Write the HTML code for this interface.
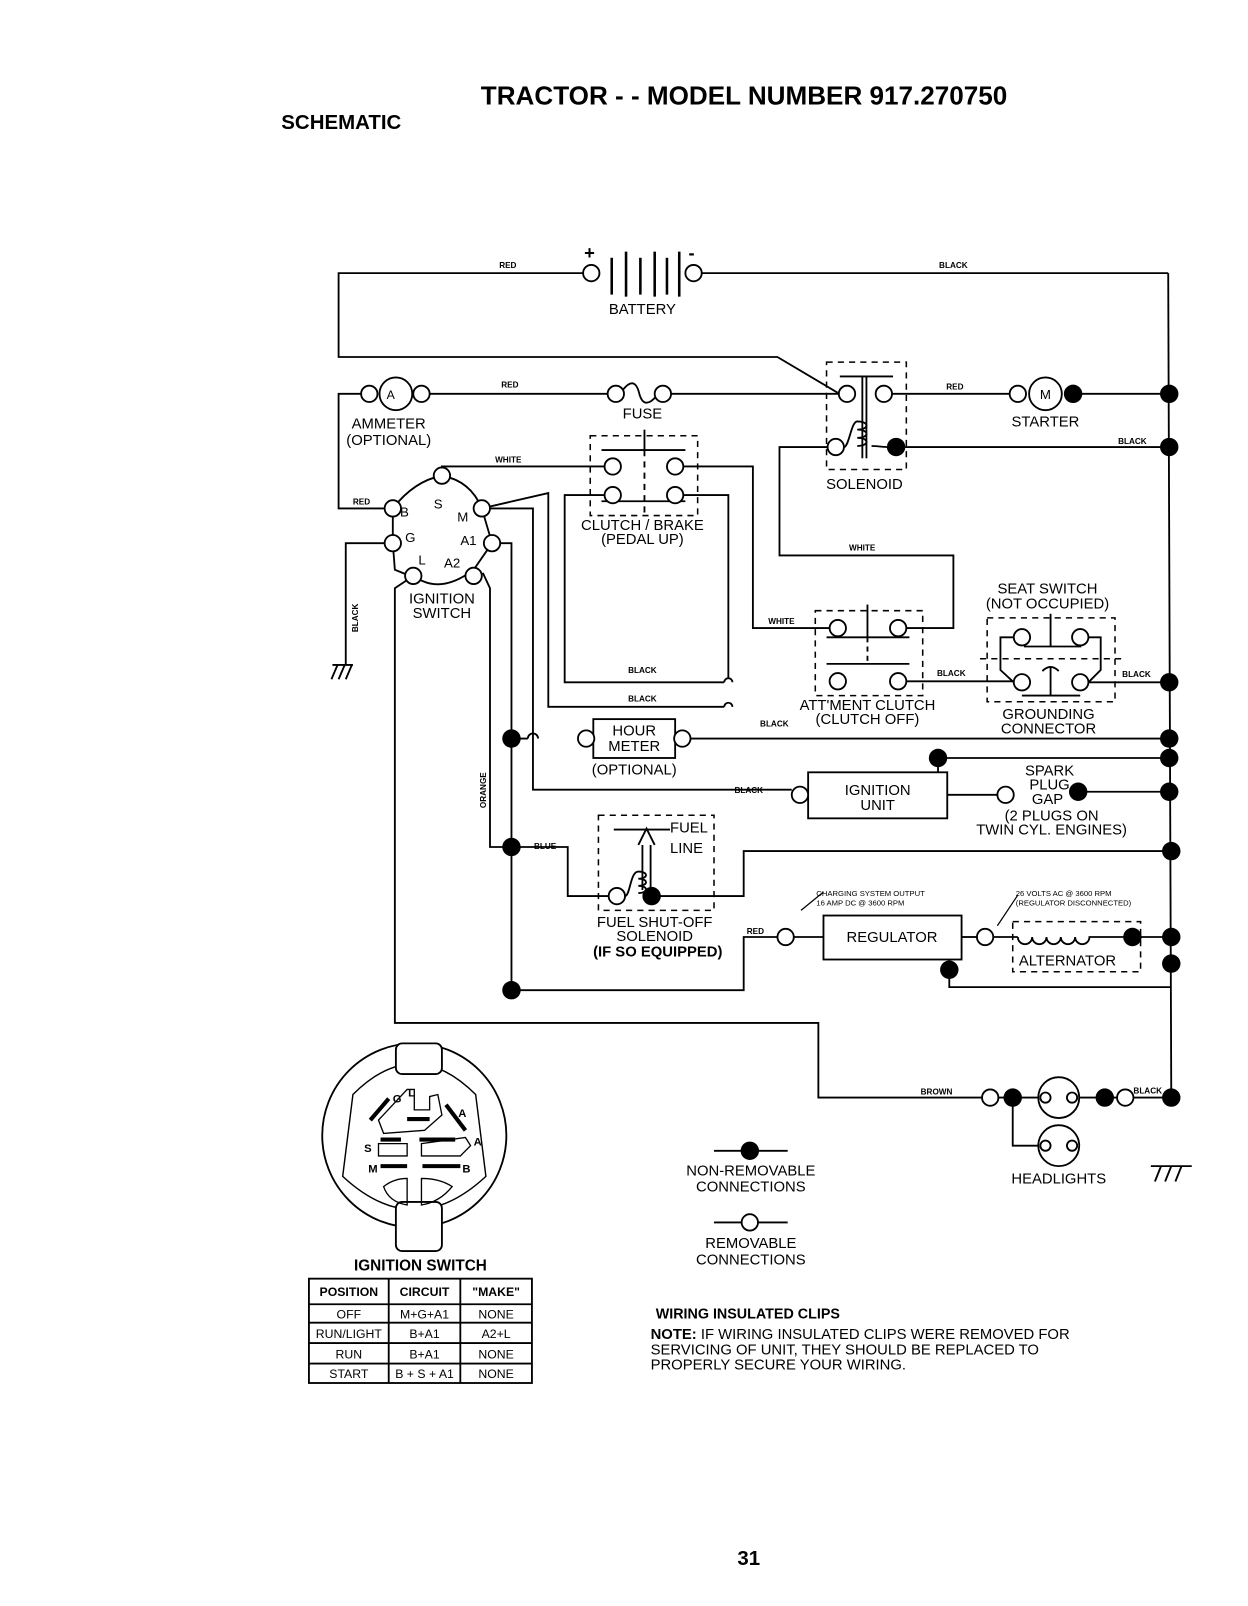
<!DOCTYPE html>
<html><head><meta charset="utf-8"><style>
html,body{margin:0;padding:0;background:#fff}
svg{display:block}
text{font-family:"Liberation Sans",sans-serif;fill:#000}
.w{font-size:8px;font-weight:bold}
.l{font-size:14.5px}
.b{font-weight:bold}
</style></head><body>
<svg width="1248" height="1606" viewBox="0 0 1220 1570" preserveAspectRatio="none" xmlns="http://www.w3.org/2000/svg">
<g fill="none" stroke="#000" stroke-width="1.8">
<!-- battery -->
<polyline points="570,267 331,267 331,349 760,349 819,384"/>
<line x1="686" y1="267" x2="1142" y2="267"/>
<line x1="1142" y1="267" x2="1145" y2="1075"/>
<circle cx="578" cy="267" r="8" fill="#fff"/><circle cx="678" cy="267" r="8" fill="#fff"/>
<line x1="598" y1="252" x2="598" y2="288" stroke-width="2.5"/><line x1="612" y1="246" x2="612" y2="290" stroke-width="2.5"/>
<line x1="626" y1="252" x2="626" y2="288" stroke-width="2.5"/><line x1="640" y1="246" x2="640" y2="290" stroke-width="2.5"/>
<line x1="652" y1="252" x2="652" y2="288" stroke-width="2.5"/><line x1="664" y1="246" x2="664" y2="290" stroke-width="2.5"/>
<!-- ammeter row -->
<polyline points="353,385 331,385 331,497 384,497"/>
<line x1="420" y1="385" x2="594" y2="385"/>
<circle cx="361" cy="385" r="8" fill="#fff"/><circle cx="387" cy="385" r="16" fill="#fff"/><circle cx="412" cy="385" r="8" fill="#fff"/>
<circle cx="602" cy="385" r="8" fill="#fff"/><circle cx="648" cy="385" r="8" fill="#fff"/>
<path d="M609,381 C616,372 622,372 625,385 C628,396 634,396 641,388"/>
<line x1="656" y1="385" x2="820" y2="385"/>
<!-- solenoid -->
<rect x="808" y="354" width="78" height="105" stroke-dasharray="6,5" stroke-width="1.5"/>
<line x1="821" y1="368" x2="873" y2="368"/>
<line x1="843" y1="368" x2="843" y2="448"/><line x1="847" y1="368" x2="847" y2="448"/>
<path d="M825,437 C830,437 832,412 838,412 M838,412 c12,0 12,8 0,8 c12,0 12,8 0,8 c12,0 12,8 0,8 M852,436 C858,436 862,437 868,437"/>
<circle cx="828" cy="385" r="8" fill="#fff"/><circle cx="864" cy="385" r="8" fill="#fff"/>
<circle cx="817" cy="437" r="8" fill="#fff"/>
<line x1="872" y1="385" x2="987" y2="385"/>
<circle cx="995" cy="385" r="8" fill="#fff"/><circle cx="1022" cy="385" r="16" fill="#fff"/>
<line x1="1049" y1="385" x2="1143" y2="385"/>
<line x1="876" y1="437" x2="1143" y2="437"/>
<polyline points="809,437 762,437 762,543 932,543 932,614 886,614"/>
<!-- clutch brake -->
<rect x="577" y="426" width="105" height="78" stroke-dasharray="6,5" stroke-width="1.5"/>
<line x1="630" y1="420" x2="630" y2="440"/><line x1="630" y1="440" x2="630" y2="504" stroke-dasharray="6,5"/>
<line x1="588" y1="440" x2="670" y2="440"/><line x1="588" y1="490" x2="670" y2="490"/>
<polyline points="432,465 432,456 591,456"/>
<polyline points="668,456 736,456 736,614 811,614"/>
<circle cx="599" cy="456" r="8" fill="#fff"/><circle cx="660" cy="456" r="8" fill="#fff"/>
<circle cx="599" cy="484" r="8" fill="#fff"/><circle cx="660" cy="484" r="8" fill="#fff"/>
<polyline points="591,484 552,484 552,667 708,667 M716,667 811,667"/>
<path d="M708,667 a4,4 0 0 1 8,0"/>
<polyline points="668,484 712,484 712,663 M712,671 712,715 947,715 947,691 886,666"/>
<polyline points="471,497 536,482 536,691 708,691 M716,691 753,691 819,666"/>
<path d="M708,691 a4,4 0 0 1 8,0"/>
<!-- attment -->
<rect x="797" y="597" width="105" height="83" stroke-dasharray="6,5" stroke-width="1.5"/>
<line x1="808" y1="623" x2="889" y2="623"/><line x1="808" y1="649" x2="889" y2="649"/>
<line x1="848" y1="591" x2="848" y2="623"/><line x1="848" y1="623" x2="848" y2="649" stroke-dasharray="5,4"/>
<circle cx="819" cy="614" r="8" fill="#fff"/><circle cx="878" cy="614" r="8" fill="#fff"/>
<circle cx="819" cy="666" r="8" fill="#fff"/><circle cx="878" cy="666" r="8" fill="#fff"/>
<line x1="886" y1="666" x2="991" y2="666"/>
<!-- seat switch -->
<rect x="965" y="604" width="125" height="82" stroke-dasharray="6,5" stroke-width="1.5"/>
<line x1="1001" y1="632" x2="1057" y2="632"/><line x1="1027" y1="600" x2="1027" y2="632"/>
<line x1="958" y1="644" x2="1098" y2="644" stroke-dasharray="6,5" stroke-width="1.5"/>
<line x1="1027" y1="652" x2="1027" y2="680"/><line x1="999" y1="680" x2="1056" y2="680"/>
<path d="M1019,656 q8,-8 16,0"/>
<polyline points="991,623 978,623 978,655 991,667"/><polyline points="1064,623 1076,623 1076,655 1064,667"/>
<circle cx="999" cy="623" r="8" fill="#fff"/><circle cx="1056" cy="623" r="8" fill="#fff"/>
<circle cx="999" cy="667" r="8" fill="#fff"/><circle cx="1056" cy="667" r="8" fill="#fff"/>
<line x1="1064" y1="667" x2="1143" y2="667"/>
<!-- ignition switch -->
<path d="M384,497 Q405,470 432,465 Q460,470 471,497 L481,531 L463,557 Q435,578 413,568 L386,557 L384,531 Z"/>
<polyline points="384,531 338,531 338,650"/>
<polyline points="404,563 386,575 386,1000 800,1000 800,1073 960,1073"/>
<polyline points="472,560 479,575 479,828 500,828"/>
<polyline points="471,497 521,497 521,772 774,772"/>
<polyline points="481,531 500,531 500,968"/>
<circle cx="432" cy="465" r="8" fill="#fff"/><circle cx="384" cy="497" r="8" fill="#fff"/><circle cx="471" cy="497" r="8" fill="#fff"/>
<circle cx="384" cy="531" r="8" fill="#fff"/><circle cx="481" cy="531" r="8" fill="#fff"/>
<circle cx="404" cy="563" r="8" fill="#fff"/><circle cx="463" cy="563" r="8" fill="#fff"/>
<!-- ground -->
<line x1="325" y1="650" x2="345" y2="650"/><line x1="330" y1="650" x2="324" y2="664"/><line x1="337" y1="650" x2="331" y2="664"/><line x1="344" y1="650" x2="338" y2="664"/>
<!-- hour meter -->
<polyline points="500,722 516,722 M526,722 565,722"/><path d="M516,722 a5,5 0 0 1 10,0"/>
<rect x="580" y="703" width="80" height="38"/>
<circle cx="573" cy="722" r="8" fill="#fff"/><circle cx="667" cy="722" r="8" fill="#fff"/>
<line x1="675" y1="722" x2="1143" y2="722"/>
<!-- ignition unit -->
<rect x="790" y="755" width="136" height="45"/>
<circle cx="782" cy="777" r="8" fill="#fff"/>
<line x1="926" y1="777" x2="975" y2="777"/><circle cx="983" cy="777" r="8" fill="#fff"/>
<line x1="917" y1="741" x2="1143" y2="741"/><line x1="917" y1="741" x2="917" y2="755"/>
<line x1="1054" y1="774" x2="1143" y2="774"/>
<!-- fuel -->
<rect x="585" y="797" width="113" height="93" stroke-dasharray="6,5" stroke-width="1.5"/>
<polyline points="500,828 555,828 555,876 595,876"/>
<line x1="600" y1="811" x2="655" y2="811"/>
<path d="M624,826 L632,810 L640,826 M628,826 L628,870 M636,826 L636,870"/>
<path d="M611,876 C616,876 616,852 624,852 c10,0 10,7 0,7 c10,0 10,7 0,7 c10,0 10,7 0,7 M640,872 C644,876 644,876 637,876"/>
<circle cx="603" cy="876" r="8" fill="#fff"/>
<polyline points="637,876 727,876 727,832 1145,832"/>
<!-- regulator -->
<polyline points="500,968 727,968 727,916 760,916"/>
<circle cx="768" cy="916" r="8" fill="#fff"/>
<line x1="776" y1="916" x2="805" y2="916"/>
<rect x="805" y="895" width="135" height="43"/>
<line x1="940" y1="916" x2="955" y2="916"/><circle cx="963" cy="916" r="8" fill="#fff"/>
<line x1="971" y1="916" x2="995" y2="916"/>
<path d="M995,916 a7,7 0 0 0 14,0 a7,7 0 0 0 14,0 a7,7 0 0 0 14,0 a7,7 0 0 0 14,0 a7,7 0 0 0 14,0 L1107,916"/>
<rect x="990" y="901" width="125" height="49" stroke-dasharray="6,5" stroke-width="1.5"/>
<line x1="1107" y1="916" x2="1145" y2="916"/>
<polyline points="928,948 928,965 1145,965"/>
<line x1="783" y1="890" x2="805" y2="872" stroke-width="1.2"/><line x1="975" y1="905" x2="995" y2="875" stroke-width="1.2"/>
<!-- headlights -->
<circle cx="968" cy="1073" r="8" fill="#fff"/>
<line x1="976" y1="1073" x2="1015" y2="1073"/>
<circle cx="1035" cy="1073" r="20"/><circle cx="1035" cy="1120" r="20"/>
<circle cx="1022" cy="1073" r="5" fill="#fff"/><circle cx="1048" cy="1073" r="5" fill="#fff"/>
<circle cx="1022" cy="1120" r="5" fill="#fff"/><circle cx="1048" cy="1120" r="5" fill="#fff"/>
<line x1="1055" y1="1073" x2="1092" y2="1073"/><circle cx="1100" cy="1073" r="8" fill="#fff"/>
<line x1="1108" y1="1073" x2="1145" y2="1073"/>
<polyline points="990,1073 990,1120 1015,1120 M1055,1120 1080,1120 1080,1073"/>
<line x1="1125" y1="1140" x2="1165" y2="1140"/><line x1="1135" y1="1140" x2="1129" y2="1155"/><line x1="1145" y1="1140" x2="1139" y2="1155"/><line x1="1155" y1="1140" x2="1149" y2="1155"/>
<!-- legend -->
<line x1="698" y1="1125" x2="770" y2="1125"/><line x1="698" y1="1195" x2="770" y2="1195"/>
<circle cx="733" cy="1195" r="8" fill="#fff"/>
<!-- switch drawing -->
<circle cx="405" cy="1110" r="90"/>
<path d="M345,1070 Q405,1010 465,1070 L475,1150 Q405,1215 335,1150 Z" stroke-width="1.4"/>
<rect x="387" y="1020" width="45" height="30" rx="6" fill="#fff"/>
<rect x="387" y="1175" width="45" height="48" rx="6" fill="#fff"/>
<path d="M370,1095 L398,1065 L405,1065 L405,1085 L420,1085 L420,1072 L428,1070 L432,1090 L415,1105 L375,1108 Z" stroke-width="1.3"/>
<path d="M370,1118 L398,1118 L398,1130 L370,1130 Z M412,1118 L455,1112 L460,1120 L450,1130 L412,1130 Z M375,1160 Q385,1152 398,1152 L398,1178 Q380,1175 375,1160 Z M412,1152 Q430,1152 442,1160 Q430,1175 412,1178 Z" stroke-width="1.3"/>
<g stroke-width="4"><line x1="362" y1="1095" x2="380" y2="1074"/><line x1="398" y1="1094" x2="420" y2="1094"/><line x1="436" y1="1080" x2="455" y2="1105"/>
<line x1="372" y1="1114" x2="392" y2="1114"/><line x1="410" y1="1114" x2="445" y2="1114"/><line x1="372" y1="1140" x2="398" y2="1140"/><line x1="413" y1="1140" x2="450" y2="1140"/></g>
<!-- table -->
<rect x="302" y="1250" width="218" height="102"/>
<line x1="302" y1="1275" x2="520" y2="1275"/><line x1="302" y1="1293" x2="520" y2="1293"/>
<line x1="302" y1="1313" x2="520" y2="1313"/><line x1="302" y1="1333" x2="520" y2="1333"/>
<line x1="380" y1="1250" x2="380" y2="1352"/><line x1="450" y1="1250" x2="450" y2="1352"/>
</g>
<g fill="#000">
<circle cx="1049" cy="385" r="9"/><circle cx="1143" cy="385" r="9"/><circle cx="876" cy="437" r="9"/><circle cx="1143" cy="437" r="9"/>
<circle cx="1143" cy="667" r="9"/><circle cx="1143" cy="722" r="9"/><circle cx="1143" cy="741" r="9"/><circle cx="1143" cy="774" r="9"/>
<circle cx="917" cy="741" r="9"/><circle cx="1054" cy="774" r="9"/><circle cx="500" cy="722" r="9"/><circle cx="500" cy="828" r="9"/>
<circle cx="500" cy="968" r="9"/><circle cx="637" cy="876" r="9"/><circle cx="1145" cy="832" r="9"/><circle cx="1107" cy="916" r="9"/>
<circle cx="1145" cy="916" r="9"/><circle cx="928" cy="948" r="9"/><circle cx="1145" cy="942" r="9"/><circle cx="990" cy="1073" r="9"/>
<circle cx="1080" cy="1073" r="9"/><circle cx="1145" cy="1073" r="9"/><circle cx="733" cy="1125" r="9"/>
</g>
<text x="470" y="102" font-size="25.5" class="b">TRACTOR - - MODEL NUMBER 917.270750</text>
<text x="275" y="126" font-size="20" class="b">SCHEMATIC</text>
<text x="571" y="253" font-size="18" class="b">+</text><text x="673" y="253" font-size="18" class="b">-</text>
<text x="628" y="307" class="l" text-anchor="middle">BATTERY</text>
<text x="488" y="262" class="w">RED</text><text x="918" y="262" class="w">BLACK</text>
<text x="382" y="390" font-size="12" text-anchor="middle">A</text>
<text x="1022" y="390" font-size="13" text-anchor="middle">M</text>
<text x="490" y="379" class="w">RED</text><text x="925" y="381" class="w">RED</text>
<text x="1093" y="434" class="w">BLACK</text>
<text x="628" y="409" class="l" text-anchor="middle">FUSE</text>
<text x="380" y="419" class="l" text-anchor="middle">AMMETER</text><text x="380" y="435" class="l" text-anchor="middle">(OPTIONAL)</text>
<text x="1022" y="417" class="l" text-anchor="middle">STARTER</text>
<text x="845" y="478" class="l" text-anchor="middle">SOLENOID</text>
<text x="484" y="452" class="w">WHITE</text><text x="345" y="493" class="w">RED</text>
<text x="628" y="518" class="l" text-anchor="middle">CLUTCH / BRAKE</text><text x="628" y="532" class="l" text-anchor="middle">(PEDAL UP)</text>
<text x="830" y="538" class="w">WHITE</text><text x="751" y="610" class="w">WHITE</text>
<text x="424" y="497" font-size="13">S</text><text x="391" y="505" font-size="13">B</text><text x="447" y="510" font-size="13">M</text>
<text x="396" y="530" font-size="13">G</text><text x="450" y="533" font-size="13">A1</text><text x="409" y="552" font-size="13">L</text><text x="434" y="555" font-size="13">A2</text>
<text x="432" y="590" class="l" text-anchor="middle">IGNITION</text><text x="432" y="604" class="l" text-anchor="middle">SWITCH</text>
<text transform="translate(350,618) rotate(-90)" class="w">BLACK</text>
<text x="614" y="658" class="w">BLACK</text><text x="614" y="686" class="w">BLACK</text>
<text x="1024" y="580" class="l" text-anchor="middle">SEAT SWITCH</text><text x="1024" y="595" class="l" text-anchor="middle">(NOT OCCUPIED)</text>
<text x="916" y="661" class="w">BLACK</text><text x="1097" y="662" class="w">BLACK</text>
<text x="848" y="694" class="l" text-anchor="middle">ATT'MENT CLUTCH</text><text x="848" y="708" class="l" text-anchor="middle">(CLUTCH OFF)</text>
<text x="743" y="710" class="w">BLACK</text>
<text x="1025" y="703" class="l" text-anchor="middle">GROUNDING</text><text x="1025" y="717" class="l" text-anchor="middle">CONNECTOR</text>
<text x="620" y="719" class="l" text-anchor="middle">HOUR</text><text x="620" y="734" class="l" text-anchor="middle">METER</text>
<text x="620" y="757" class="l" text-anchor="middle">(OPTIONAL)</text>
<text transform="translate(475,790) rotate(-90)" class="w">ORANGE</text>
<text x="718" y="775" class="w">BLACK</text>
<text x="858" y="777" class="l" text-anchor="middle">IGNITION</text><text x="858" y="792" class="l" text-anchor="middle">UNIT</text>
<text x="1026" y="758" class="l" text-anchor="middle">SPARK</text><text x="1026" y="772" class="l" text-anchor="middle">PLUG</text>
<text x="1024" y="786" class="l" text-anchor="middle">GAP</text><text x="1028" y="802" class="l" text-anchor="middle">(2 PLUGS ON</text>
<text x="1028" y="816" class="l" text-anchor="middle">TWIN CYL. ENGINES)</text>
<text x="522" y="830" class="w">BLUE</text>
<text x="655" y="814" class="l">FUEL</text><text x="655" y="834" class="l">LINE</text>
<text x="640" y="906" class="l" text-anchor="middle">FUEL SHUT-OFF</text><text x="640" y="920" class="l" text-anchor="middle">SOLENOID</text>
<text x="643" y="935" class="l b" text-anchor="middle">(IF SO EQUIPPED)</text>
<text x="730" y="913" class="w">RED</text>
<text x="798" y="876" font-size="7.5">CHARGING SYSTEM OUTPUT</text><text x="798" y="885" font-size="7.5">16 AMP DC @ 3600 RPM</text>
<text x="993" y="876" font-size="7.5">26 VOLTS AC @ 3600 RPM</text><text x="993" y="885" font-size="7.5">(REGULATOR DISCONNECTED)</text>
<text x="872" y="921" class="l" text-anchor="middle">REGULATOR</text>
<text x="996" y="944" class="l">ALTERNATOR</text>
<text x="900" y="1070" class="w">BROWN</text><text x="1108" y="1069" class="w">BLACK</text>
<text x="1035" y="1157" class="l" text-anchor="middle">HEADLIGHTS</text>
<text x="734" y="1149" class="l" text-anchor="middle">NON-REMOVABLE</text><text x="734" y="1165" class="l" text-anchor="middle">CONNECTIONS</text>
<text x="734" y="1220" class="l" text-anchor="middle">REMOVABLE</text><text x="734" y="1236" class="l" text-anchor="middle">CONNECTIONS</text>
<text x="384" y="1078" font-size="11" class="b">G</text><text x="399" y="1072" font-size="11" class="b">L</text>
<text x="448" y="1092" font-size="11" class="b">A</text><text x="463" y="1120" font-size="11" class="b">A</text>
<text x="356" y="1126" font-size="11" class="b">S</text><text x="360" y="1146" font-size="11" class="b">M</text><text x="452" y="1146" font-size="11" class="b">B</text>
<text x="411" y="1242" font-size="15" class="b" text-anchor="middle">IGNITION SWITCH</text>
<g font-size="12" text-anchor="middle">
<text x="341" y="1267" class="b">POSITION</text><text x="415" y="1267" class="b">CIRCUIT</text><text x="485" y="1267" class="b">"MAKE"</text>
<text x="341" y="1289">OFF</text><text x="415" y="1289">M+G+A1</text><text x="485" y="1289">NONE</text>
<text x="341" y="1308">RUN/LIGHT</text><text x="415" y="1308">B+A1</text><text x="485" y="1308">A2+L</text>
<text x="341" y="1328">RUN</text><text x="415" y="1328">B+A1</text><text x="485" y="1328">NONE</text>
<text x="341" y="1347">START</text><text x="415" y="1347">B + S + A1</text><text x="485" y="1347">NONE</text>
</g>
<text x="641" y="1289" font-size="14" class="b">WIRING INSULATED CLIPS</text>
<text x="636" y="1309" font-size="14.5"><tspan font-weight="bold">NOTE:</tspan> IF WIRING INSULATED CLIPS WERE REMOVED FOR</text>
<text x="636" y="1324" font-size="14.5">SERVICING OF UNIT, THEY SHOULD BE REPLACED TO</text>
<text x="636" y="1339" font-size="14.5">PROPERLY SECURE YOUR WIRING.</text>
<text x="732" y="1530" font-size="20" class="b" text-anchor="middle">31</text>
</svg>
</body></html>
